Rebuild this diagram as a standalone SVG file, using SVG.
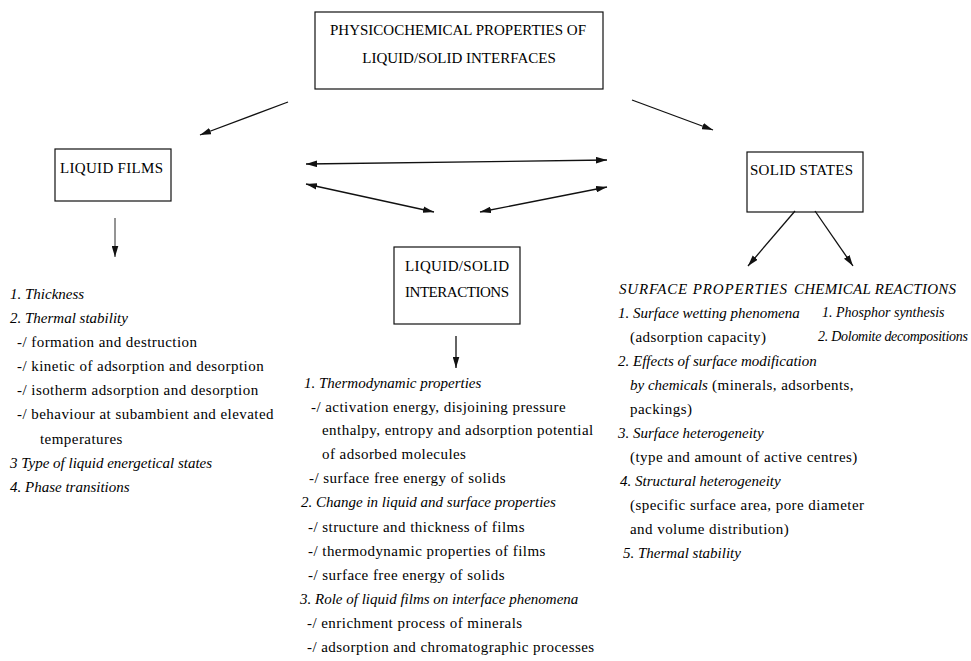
<svg xmlns="http://www.w3.org/2000/svg" width="971" height="661" viewBox="0 0 971 661">
<style>
text{font-family:"Liberation Serif","Times New Roman",serif;font-size:15px;fill:#000}
.r{letter-spacing:0.45px}
.i{font-style:italic}
.s{font-size:14px}
.box{fill:none;stroke:#111;stroke-width:1.2}
.c line{stroke:#111;stroke-width:1.3}
</style>
<defs>
<marker id="ah" viewBox="0 0 10 6" refX="10" refY="3" markerWidth="11" markerHeight="7" markerUnits="userSpaceOnUse" orient="auto-start-reverse">
<path d="M0,0 L10,3 L0,6 Z" fill="#111"/>
</marker>
</defs>
<rect width="971" height="661" fill="#fff"/>

<g id="top">
<rect class="box" x="315" y="12" width="288" height="77"/>
<text x="458" y="35" text-anchor="middle">PHYSICOCHEMICAL PROPERTIES OF</text>
<text x="459" y="63" text-anchor="middle">LIQUID/SOLID INTERFACES</text>
</g>

<g id="liquid-films">
<rect class="box" x="55" y="149" width="116" height="52"/>
<text x="60" y="173" textLength="103">LIQUID FILMS</text>
</g>

<g id="solid-states">
<rect class="box" x="747" y="152" width="116" height="60"/>
<text x="750" y="175" textLength="103">SOLID STATES</text>
</g>

<g id="interactions">
<rect class="box" x="394" y="247" width="126" height="77"/>
<text x="405" y="271" textLength="104">LIQUID/SOLID</text>
<text x="405" y="297" textLength="104">INTERACTIONS</text>
</g>

<g class="c" id="connectors">
<line x1="288" y1="102" x2="200" y2="135" marker-end="url(#ah)"/>
<line x1="632" y1="100" x2="713" y2="130" marker-end="url(#ah)"/>
<line x1="306" y1="164" x2="607" y2="160" marker-start="url(#ah)" marker-end="url(#ah)"/>
<line x1="306" y1="184" x2="434" y2="212" marker-start="url(#ah)" marker-end="url(#ah)"/>
<line x1="480" y1="212" x2="607" y2="187" marker-start="url(#ah)" marker-end="url(#ah)"/>
<line x1="115" y1="218" x2="115" y2="257" marker-end="url(#ah)" style="stroke-width:0.9"/>
<line x1="456" y1="336" x2="456" y2="368" marker-end="url(#ah)"/>
<line x1="795" y1="211" x2="748" y2="266" marker-end="url(#ah)"/>
<line x1="815" y1="211" x2="853" y2="266" marker-end="url(#ah)"/>
</g>

<g id="liquid-films-list">
<text class="i" x="10" y="299">1. Thickness</text>
<text class="i" x="10" y="323">2. Thermal stability</text>
<text class="r" x="17" y="347">-/ formation and destruction</text>
<text class="r" x="17" y="371">-/ kinetic of adsorption and desorption</text>
<text class="r" x="17" y="395">-/ isotherm adsorption and desorption</text>
<text class="r" x="17" y="419">-/ behaviour at subambient and elevated</text>
<text class="r" x="40" y="444">temperatures</text>
<text class="i" x="10" y="468">3 Type of liquid energetical states</text>
<text class="i" x="10" y="492">4. Phase transitions</text>
</g>

<g id="interactions-list">
<text class="i" x="304" y="388">1. Thermodynamic properties</text>
<text class="r" x="311" y="412">-/ activation energy, disjoining pressure</text>
<text class="r" x="322" y="435">enthalpy, entropy and adsorption potential</text>
<text class="r" x="322" y="459">of adsorbed molecules</text>
<text class="r" x="309" y="483">-/ surface free energy of solids</text>
<text class="i" x="301" y="507">2. Change in liquid and surface properties</text>
<text class="r" x="308" y="532">-/ structure and thickness of films</text>
<text class="r" x="308" y="556">-/ thermodynamic properties of films</text>
<text class="r" x="308" y="580">-/ surface free energy of solids</text>
<text class="i" x="300" y="604">3. Role of liquid films on interface phenomena</text>
<text class="r" x="307" y="628">-/ enrichment process of minerals</text>
<text class="r" x="307" y="652">-/ adsorption and chromatographic processes</text>
</g>

<g id="solid-lists">
<text class="i" x="619" y="294" textLength="168">SURFACE PROPERTIES</text>
<text class="i" x="794" y="294" textLength="162">CHEMICAL REACTIONS</text>
<text class="i s" x="822" y="317">1. Phosphor synthesis</text>
<text class="i s" x="818" y="341" textLength="150">2. Dolomite decompositions</text>
<text class="i" x="618" y="318">1. Surface wetting phenomena</text>
<text class="r" x="630" y="342">(adsorption capacity)</text>
<text class="i" x="618" y="366">2. Effects of surface modification</text>
<text x="630" y="390"><tspan class="i">by chemicals</tspan><tspan class="r"> (minerals, adsorbents,</tspan></text>
<text class="r" x="630" y="414">packings)</text>
<text class="i" x="618" y="438">3. Surface heterogeneity</text>
<text class="r" x="630" y="462">(type and amount of active centres)</text>
<text class="i" x="620" y="486">4. Structural heterogeneity</text>
<text class="r" x="630" y="510">(specific surface area, pore diameter</text>
<text class="r" x="630" y="534">and volume distribution)</text>
<text class="i" x="623" y="558">5. Thermal stability</text>
</g>
</svg>
